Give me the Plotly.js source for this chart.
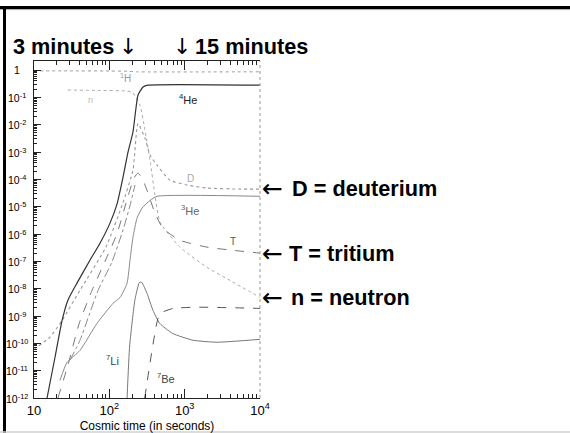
<!DOCTYPE html>
<html>
<head>
<meta charset="utf-8">
<script src="https://cdn.plot.ly/plotly-3.0.1.min.js"></script>
<style>html,body{margin:0;padding:0;background:#fff;}#chart{width:570px;height:433px;}</style>
</head>
<body>
<div id="chart"></div>
<script>
// ---- data (time in seconds, mass fraction) ----
const yTickVals = [0, -1, -2, -3, -4, -5, -6, -7, -8, -9, -10, -11, -12];
const yTickText = ["1", "10<sup>-1</sup>", "10<sup>-2</sup>", "10<sup>-3</sup>", "10<sup>-4</sup>", "10<sup>-5</sup>", "10<sup>-6</sup>", "10<sup>-7</sup>", "10<sup>-8</sup>", "10<sup>-9</sup>", "10<sup>-10</sup>", "10<sup>-11</sup>", "10<sup>-12</sup>"];
const xTickVals = [10, 100, 1000, 10000];
const xTickText = ["10", "10<sup>2</sup>", "10<sup>3</sup>", "10<sup>4</sup>"];

const he4T = [14.9, 19.0, 23.6, 28.2, 37.2, 55.3, 75.2, 102, 127, 152, 177, 206, 240, 280, 326, 10000];
const he4Y = [1e-12, 3.1e-11, 6.9e-10, 3.8e-9, 1.6e-8, 1.1e-7, 4.6e-7, 2.5e-6, 1.3e-5, 1.2e-4, 1.0e-3, 5.4e-3, 0.12, 0.24, 0.28, 0.28];

const hT = [10, 28, 100, 180, 230, 10000];
const hY = [0.93, 0.93, 0.92, 0.9, 0.86, 0.86];

const nT = [28, 75, 172, 206, 255, 297, 347, 404, 471, 867, 1980, 4000, 10000];
const nY = [0.186, 0.178, 0.17, 0.145, 0.052, 6.3e-3, 5e-4, 2.6e-5, 2.7e-6, 3.3e-7, 6e-8, 2e-8, 4.8e-9];

const dT = [10, 16.3, 23.6, 40.7, 90, 151, 206, 240, 297, 347, 430, 638, 1070, 1980, 5430, 10000];
const dY = [6e-11, 1.7e-10, 6.9e-10, 8.7e-9, 3.3e-7, 1.35e-5, 2.2e-4, 1.1e-2, 3.2e-3, 7.8e-4, 3.3e-4, 9.3e-5, 6.2e-5, 4.8e-5, 4.4e-5, 4.4e-5];

const tT = [20.8, 28.2, 39.5, 58.9, 87.7, 126, 177, 212, 240, 272, 316, 404, 515, 867, 1980, 4000, 10000];
const tY = [1e-12, 1.6e-11, 5e-10, 8.7e-9, 1e-7, 1e-6, 2.4e-5, 1.1e-4, 1.7e-4, 1.1e-4, 4e-5, 5.8e-6, 1.6e-6, 5.9e-7, 3.3e-7, 2.6e-7, 2e-7];

const xT = [30.2, 40.8, 70.8, 108, 152, 188, 219];
const xY = [2.5e-11, 1.3e-10, 8.7e-9, 9.3e-8, 1.4e-6, 1.1e-5, 6.2e-5];

const he3T = [22.1, 27.4, 40.8, 68.6, 112, 139, 172, 188, 206, 233, 272, 347, 430, 10000];
const he3Y = [4.4e-12, 2e-11, 5.5e-11, 5.4e-10, 2.9e-9, 4.8e-9, 1.6e-8, 1.1e-7, 7.6e-7, 3.8e-6, 8.9e-6, 1.7e-5, 2.4e-5, 2.4e-5];

const li7T = [172, 186, 219, 251, 269, 316, 380, 466, 692, 1290, 2690, 10000];
const li7Y = [1e-12, 8e-11, 4e-9, 1.7e-8, 1.7e-8, 6.8e-9, 1.6e-9, 5.4e-10, 2.3e-10, 1.3e-10, 1.1e-10, 1.4e-10];

const be7T = [295, 447, 513, 708, 1450, 10000];
const be7Y = [1e-12, 8.9e-10, 1.4e-9, 1.9e-9, 2.1e-9, 1.9e-9];

// ---- layout helpers (pixel -> paper) ----
const L = 34, R = 260, T = 61, B = 398;
const px = x => (x - L) / (R - L);
const py = y => (B - y) / (B - T);

function line(x, y, color, dash, width) {
  return {x: x, y: y, type: 'scatter', mode: 'lines', hoverinfo: 'skip',
          line: {color: color, dash: dash, width: width, shape: 'spline', smoothing: 0.5}};
}

const traces = [
  line(hT, hY, '#9a9a9a', 'dot', 1),
  line(nT, nY, '#aaaaaa', 'dot', 1),
  line(dT, dY, '#999999', 'dot', 1.1),
  line(xT, xY, '#888888', 'dashdot', 1),
  line(tT, tY, '#777777', 'dash', 1),
  line(he3T, he3Y, '#8a8a8a', 'solid', 1),
  line(li7T, li7Y, '#777777', 'solid', 1),
  line(be7T, be7Y, '#555555', 'dash', 1),
  line(he4T, he4Y, '#333333', 'solid', 1.2)
];

const ann = [];
yTickVals.forEach((v, i) => ann.push({
  xref: 'paper', yref: 'y', x: px(16.5), y: v, text: yTickText[i], showarrow: false,
  xanchor: 'center', yanchor: 'middle', font: {family: 'Arial', size: 10.5, color: '#000'}
}));

function lab(text, x, y, size, color) {
  ann.push({xref: 'paper', yref: 'paper', x: px(x), y: py(y), text: text, showarrow: false,
            xanchor: 'center', yanchor: 'middle', font: {family: 'Arial', size: size, color: color}});
}
lab('<sup>1</sup>H', 125, 78, 10, '#9a9a9a');
lab('n', 90, 100, 9, '#bbbbbb');
lab('<sup>4</sup>He', 188, 99, 11, '#222222');
lab('D', 190, 178, 10, '#aaaaaa');
lab('<sup>3</sup>He', 190, 210, 11, '#666666');
lab('T', 233, 241, 10, '#555555');
lab('<sup>7</sup>Li', 112, 360, 11, '#444444');
lab('<sup>7</sup>Be', 166, 378, 11, '#444444');

function big(text, x, y) {
  ann.push({xref: 'paper', yref: 'paper', x: px(x), y: py(y), text: text, showarrow: false,
            xanchor: 'left', yanchor: 'middle', font: {family: 'Arial', size: 21.7, color: '#000', weight: 'bold'}});
}
function arrow(text, x, y, size) {
  ann.push({xref: 'paper', yref: 'paper', x: px(x), y: py(y), text: text, showarrow: false,
            xanchor: 'center', yanchor: 'middle', font: {family: 'DejaVu Sans', size: size, color: '#000'}});
}
big('3 minutes', 11, 47);
arrow('↓', 127.5, 47, 22);
arrow('↓', 181.5, 47, 22);
big('15 minutes', 193, 47);
arrow('←', 272.5, 188, 25);
arrow('←', 272.5, 253, 25);
arrow('←', 272.5, 297, 25);
big('D = deuterium', 290, 188);
big('T = tritium', 287, 253);
big('n = neutron', 289, 297);

const shapes = [
  {type: 'line', xref: 'paper', yref: 'paper', x0: 1, x1: 1, y0: 0, y1: 1, line: {color: '#999', width: 1, dash: 'dot'}},
  {type: 'rect', xref: 'paper', yref: 'paper', x0: px(0), x1: px(570), y0: py(9), y1: py(6), fillcolor: '#000', line: {width: 0}, layer: 'above'},
  {type: 'line', xref: 'paper', yref: 'paper', x0: px(0), x1: px(570), y0: py(9.6), y1: py(9.6), line: {color: '#aaa', width: 1}, layer: 'above'},
  {type: 'rect', xref: 'paper', yref: 'paper', x0: px(3), x1: px(6), y0: py(433), y1: py(6), fillcolor: '#000', line: {width: 0}, layer: 'above'},
  {type: 'line', xref: 'paper', yref: 'paper', x0: px(0), x1: px(570), y0: py(432), y1: py(432), line: {color: '#d0d0d0', width: 1.5}, layer: 'above'}
];

const layout = {
  width: 570, height: 433,
  margin: {l: L, r: 570 - R, t: T, b: 433 - B},
  paper_bgcolor: '#fff', plot_bgcolor: '#fff',
  showlegend: false,
  font: {family: 'Arial', color: '#000'},
  xaxis: {
    type: 'log', range: [1, 4], showgrid: false, zeroline: false,
    showline: true, linecolor: '#222', linewidth: 1, mirror: 'ticks',
    ticks: 'inside', ticklen: 9, tickcolor: '#222',
    tickvals: xTickVals, ticktext: xTickText,
    tickfont: {family: 'Arial', size: 13, color: '#000'},
    minor: {ticks: 'inside', ticklen: 4, tickcolor: '#222', dtick: 'D1'},
    title: {text: 'Cosmic time (in seconds)', standoff: 7, font: {family: 'Arial', size: 12, color: '#000'}}
  },
  yaxis: {
    type: 'log', range: [-12, 0.33], showgrid: false, zeroline: false,
    showline: true, linecolor: '#222', linewidth: 1, mirror: false,
    ticks: 'inside', ticklen: 7, tickcolor: '#222',
    tickvals: yTickVals.map(v => Math.pow(10, v)), showticklabels: false,
    minor: {ticks: 'inside', ticklen: 3, tickcolor: '#222', dtick: 'D1'}
  },
  annotations: ann,
  shapes: shapes
};

Plotly.newPlot('chart', traces, layout, {staticPlot: true, displayModeBar: false});
</script>
</body>
</html>
